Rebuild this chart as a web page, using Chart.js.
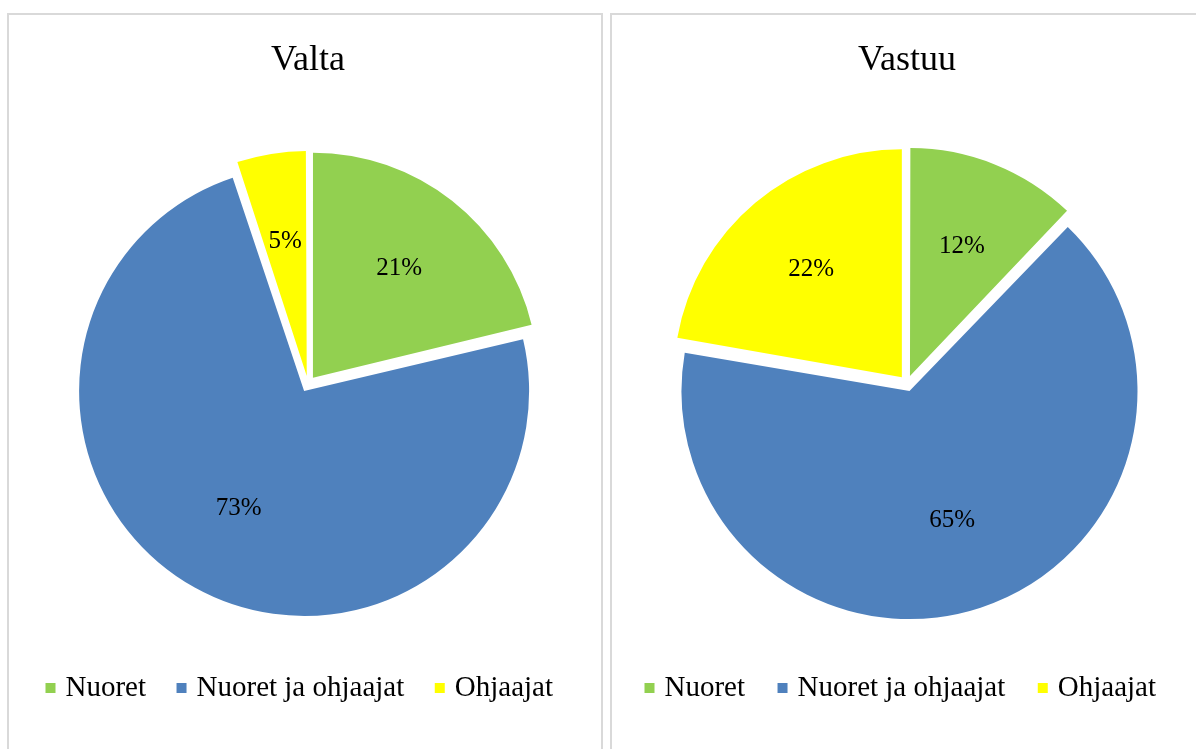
<!DOCTYPE html>
<html>
<head>
<meta charset="utf-8">
<script src="https://cdn.jsdelivr.net/npm/chart.js@4"></script>
<style>
    html, body {
        margin: 0;
        padding: 0;
        background: #ffffff;
        overflow: hidden;
        width: 1196px;
        height: 749px;
    }
    .panel {
        position: absolute;
        top: 13px;
        height: 760px;
        border: 2px solid #d9d9d9;
        background: #ffffff;
    }
    .chart-box {
        position: relative;
        height: 734px;
    }
</style>
</head>
<body>
<div class="panel" style="left: 7px; width: 592px;">
    <div class="chart-box" style="width: 592px;"><canvas id="valta-chart"></canvas></div>
</div>
<div class="panel" style="left: 610px; width: 590px;">
    <div class="chart-box" style="width: 590px;"><canvas id="vastuu-chart"></canvas></div>
</div>
<script>
// Chart data
const categories = ['Nuoret', 'Nuoret ja ohjaajat', 'Ohjaajat'];
const valtaValues = [21, 73, 5];
const vastuuValues = [12, 65, 22];
const chartTitles = ['Valta', 'Vastuu'];

const sliceColors = ['#92D050', '#4F81BD', '#FFFF00'];
const fontFamily = "'Liberation Serif', 'Times New Roman', serif";

// Chart.js grows big slices a little when they are offset, undo that so
// every slice keeps the same radius (like an exploded Excel pie)
const explodeFix = {
    id: 'explodeFix',
    afterDatasetsUpdate(chart) {
        chart.getSortedVisibleDatasetMetas().forEach(meta => {
            meta.data.forEach(arc => {
                const shift = (arc.options.offset || 0) / 4;
                const span = arc.endAngle - arc.startAngle;
                const fix = 1 - Math.sin(Math.min(Math.PI, span));
                arc.outerRadius = arc.outerRadius - shift * fix;
            });
        });
    }
};

// Percentage labels inside the slices
const sliceLabels = {
    id: 'sliceLabels',
    afterDatasetsDraw(chart, args, opts) {
        const ctx = chart.ctx;
        const meta = chart.getDatasetMeta(0);
        const values = chart.data.datasets[0].data;
        ctx.save();
        ctx.font = opts.size + 'px ' + fontFamily;
        ctx.fillStyle = '#000000';
        ctx.textAlign = 'center';
        ctx.textBaseline = 'middle';
        meta.data.forEach((arc, i) => {
            const mid = (arc.startAngle + arc.endAngle) / 2;
            const r = (arc.options.offset || 0) / 4 + opts.position * arc.outerRadius;
            ctx.fillText(values[i] + '%', arc.x + Math.cos(mid) * r, arc.y + Math.sin(mid) * r);
        });
        ctx.restore();
    }
};

function makePie(canvasId, title, values, radius, padLeft, legendPadding, titlePadBottom) {
    const ctx = document.getElementById(canvasId).getContext('2d');
    return new Chart(ctx, {
        type: 'pie',
        data: {
            labels: categories,
            datasets: [{
                data: values,
                backgroundColor: sliceColors,
                borderWidth: 0,
                offset: 32,
                radius: radius
            }]
        },
        options: {
            responsive: true,
            maintainAspectRatio: false,
            animation: false,
            devicePixelRatio: 1,
            layout: {
                padding: { top: 0, bottom: 36.5, left: padLeft, right: 0 }
            },
            plugins: {
                title: {
                    display: true,
                    text: title,
                    color: '#000000',
                    font: { family: fontFamily, size: 36, weight: 'normal', lineHeight: 1.2 },
                    padding: { top: 24, bottom: titlePadBottom }
                },
                legend: {
                    position: 'bottom',
                    align: 'start',
                    labels: {
                        color: '#000000',
                        font: { family: fontFamily, size: 29 },
                        usePointStyle: true,
                        pointStyle: 'rect',
                        boxWidth: 1,
                        boxHeight: 10,
                        padding: legendPadding
                    }
                },
                tooltip: { enabled: false },
                sliceLabels: { size: 25, position: 0.62 }
            }
        },
        plugins: [explodeFix, sliceLabels]
    });
}

makePie('valta-chart', chartTitles[0], valtaValues, 225, 6, 35, 47.3);
makePie('vastuu-chart', chartTitles[1], vastuuValues, 228, 0, 37, 48.3);
</script>
</body>
</html>
